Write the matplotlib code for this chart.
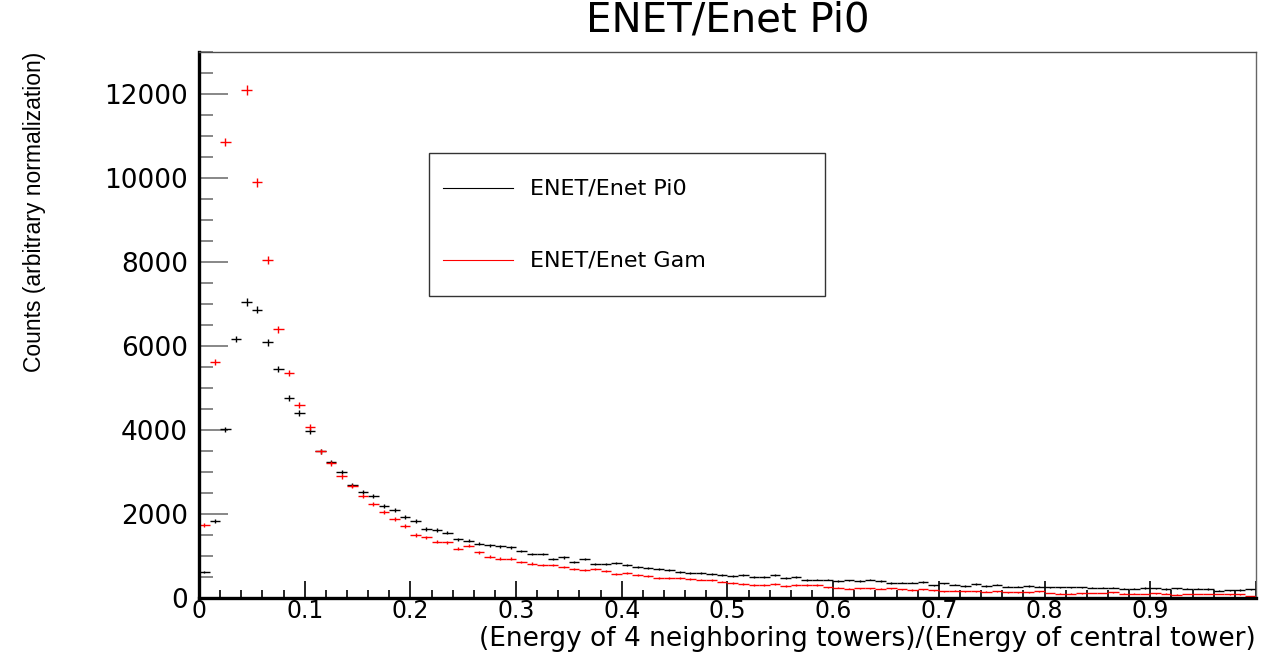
import numpy as np
import matplotlib
matplotlib.use("Agg")
import matplotlib.pyplot as plt
from matplotlib.patches import Rectangle
from matplotlib.lines import Line2D
from matplotlib.ticker import MultipleLocator

# 100 bins of width 0.01 on [0, 1]
bin_edges = np.linspace(0, 1, 101)

pi0_counts = [
    620, 1840, 4020, 6170, 7050, 6860, 6090, 5450, 4760, 4400,
    3980, 3500, 3240, 3000, 2690, 2520, 2430, 2190, 2100, 1930,
    1830, 1640, 1620, 1560, 1400, 1360, 1290, 1260, 1230, 1210,
    1120, 1050, 1050, 930, 970, 860, 930, 810, 810, 840,
    780, 740, 710, 690, 670, 630, 600, 590, 580, 550,
    520, 540, 510, 510, 540, 470, 500, 430, 440, 440,
    400, 420, 410, 440, 405, 360, 365, 365, 380, 300,
    350, 320, 290, 330, 290, 320, 270, 270, 285, 270,
    255, 255, 255, 255, 250, 250, 250, 225, 225, 240,
    230, 215, 235, 220, 220, 215, 175, 180, 190, 205,
]

gam_counts = [
    1740, 5620, 10860, 13400, 12100, 9900, 8050, 6400, 5360, 4600,
    4070, 3500, 3210, 2900, 2670, 2430, 2240, 2050, 1880, 1710,
    1500, 1450, 1340, 1330, 1170, 1240, 1090, 985, 940, 940,
    860, 820, 790, 790, 740, 685, 670, 685, 635, 580,
    590, 550, 515, 485, 475, 485, 460, 440, 430, 390,
    360, 335, 315, 315, 335, 285, 310, 310, 310, 255,
    245, 220, 230, 230, 220, 230, 210, 190, 210, 185,
    165, 175, 165, 165, 150, 160, 140, 140, 140, 160,
    120, 105, 105, 110, 120, 120, 135, 105, 105, 95,
    110, 105, 80, 95, 95, 95, 95, 85, 85, 50,
]

legend_labels = ["ENET/Enet Pi0", "ENET/Enet Gam"]

fig = plt.figure(figsize=(12.61, 6.52), dpi=100)
ax = fig.add_axes([0.1578, 0.0828, 0.8382, 0.8372])

centers = 0.5 * (bin_edges[:-1] + bin_edges[1:])
half_w = 0.5 * np.diff(bin_edges)

for counts, col in [(pi0_counts, "black"), (gam_counts, "red")]:
    c = np.array(counts, dtype=float)
    ax.errorbar(centers, c, xerr=half_w, yerr=np.sqrt(c), fmt="none",
                ecolor=col, elinewidth=1.0, capsize=0)

ax.set_xlim(0, 1)
ax.set_ylim(0, 13000)

# ROOT-like axes
ax.xaxis.set_major_locator(MultipleLocator(0.1))
ax.xaxis.set_minor_locator(MultipleLocator(0.02))
ax.yaxis.set_major_locator(MultipleLocator(2000))
ax.yaxis.set_minor_locator(MultipleLocator(500))
ax.tick_params(axis="x", which="major", direction="in", length=12, width=1.2,
               labelsize=17, pad=1, top=False)
ax.tick_params(axis="x", which="minor", direction="in", length=6, width=1.2, top=False)
ax.tick_params(axis="y", which="major", direction="in", length=21, width=1.2,
               labelsize=19, pad=8, right=False, color="0.45")
ax.tick_params(axis="y", which="minor", direction="in", length=10, width=1.2,
               right=False, color="0.45")
ax.set_xticks(np.arange(0, 1.01, 0.1))
ax.set_xticklabels(["0", "0.1", "0.2", "0.3", "0.4", "0.5", "0.6", "0.7", "0.8", "0.9", ""])
ax.yaxis.set_major_formatter(plt.FuncFormatter(lambda v, p: f"{int(v)}"))

ax.spines["left"].set_linewidth(2.4)
ax.spines["bottom"].set_linewidth(2.4)
ax.spines["top"].set_linewidth(1.0)
ax.spines["top"].set_color("0.3")
ax.spines["right"].set_linewidth(1.0)
ax.spines["right"].set_color("0.4")

ax.set_xlabel("(Energy of 4 neighboring towers)/(Energy of central tower)",
              fontsize=19, ha="right", va="top")
ax.xaxis.set_label_coords(1.0, -0.0505)
ax.set_ylabel("Counts (arbitrary normalization)", fontsize=16.5, loc="top",
              family=["Liberation Sans Narrow", "Liberation Sans", "DejaVu Sans"])
ax.yaxis.set_label_coords(-0.145, 1.0)

fig.text(0.577, 0.968, "ENET/Enet Pi0", fontsize=29, ha="center", va="center")

# legend box
ax.add_patch(Rectangle((0.2176, 0.553), 0.375, 0.262, transform=ax.transAxes,
                       fill=False, lw=1.0, edgecolor="0.2"))
for ypos, col, lab in [(0.751, "black", legend_labels[0]), (0.619, "red", legend_labels[1])]:
    ax.add_line(Line2D([0.231, 0.297], [ypos, ypos], transform=ax.transAxes,
                       color=col, lw=0.8))
    ax.text(0.313, ypos, lab, transform=ax.transAxes, fontsize=16, va="center")

fig.savefig("out.png", dpi=100)
